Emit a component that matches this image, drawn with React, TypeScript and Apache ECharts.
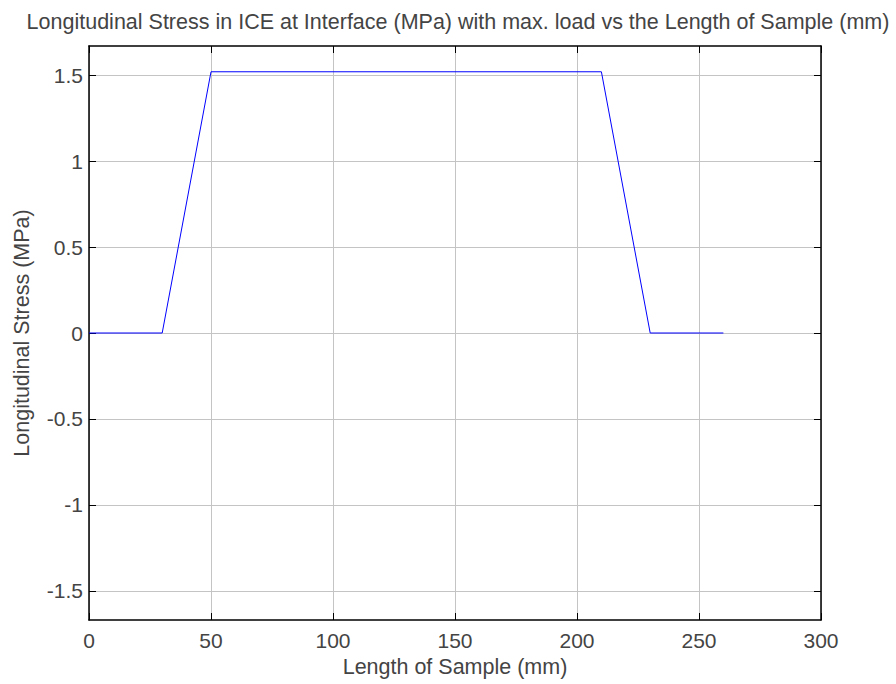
import React, { useEffect, useRef } from "react";
import * as echarts from "echarts";

const xValues = [0, 30, 50, 210, 230, 260];
const stressValues = [0, 0, 1.52, 1.52, 0, 0];
const yTicks = [-1.5, -1, -0.5, 0, 0.5, 1, 1.5];
const xTicks = [0, 50, 100, 150, 200, 250, 300];

const FONT = "Liberation Sans";
const TEXT = "#444444";

export default function App() {
  const ref = useRef<HTMLDivElement>(null);
  useEffect(() => {
    if (!ref.current) return;
    const chart = echarts.init(ref.current, undefined, { renderer: "svg" });
    const tick = { show: true, inside: true, length: 7, lineStyle: { color: "#000", width: 1 } };
    chart.setOption({
      animation: false,
      backgroundColor: "#fff",
      title: {
        text: "Longitudinal Stress in ICE at Interface (MPa) with max. load vs the Length of Sample (mm)",
        left: 453,
        textAlign: "center",
        top: 6,
        textStyle: { fontFamily: FONT, fontWeight: "normal", fontSize: 21.5, color: TEXT },
      },
      grid: [{ left: 89, right: 75, top: 46, bottom: 64, show: false, outerBoundsMode: "none", containLabel: false }],
      xAxis: [
        {
          type: "value",
          min: 0,
          max: 300,
          interval: 50,
          name: "Length of Sample (mm)",
          nameLocation: "middle",
          nameGap: 32,
          nameTextStyle: { fontFamily: FONT, fontSize: 21.5, color: TEXT },
          axisLine: { show: true, onZero: false, lineStyle: { color: "#000", width: 1.5 } },
          axisTick: tick,
          axisLabel: { fontFamily: FONT, fontSize: 21, color: TEXT, margin: 10, customValues: xTicks },
          splitLine: { show: true, lineStyle: { color: "#c4c4c4", width: 1 } },
        },
        {
          type: "value",
          position: "top",
          min: 0,
          max: 300,
          interval: 50,
          axisLine: { show: true, onZero: false, lineStyle: { color: "#000", width: 1.5 } },
          axisTick: tick,
          axisLabel: { show: false },
          splitLine: { show: false },
        },
      ],
      yAxis: [
        {
          type: "value",
          min: -1.67,
          max: 1.67,
          name: "Longitudinal Stress (MPa)",
          nameLocation: "middle",
          nameGap: 56,
          nameTextStyle: { fontFamily: FONT, fontSize: 21.5, color: TEXT },
          axisLine: { show: true, onZero: false, lineStyle: { color: "#000", width: 1.5 } },
          axisTick: { ...tick, customValues: yTicks },
          axisLabel: {
            fontFamily: FONT,
            fontSize: 21,
            color: TEXT,
            margin: 6,
            customValues: yTicks,
            formatter: (v: number) => String(v),
          },
          splitLine: { show: true, lineStyle: { color: "#c4c4c4", width: 1 } },
        },
        {
          type: "value",
          position: "right",
          min: -1.67,
          max: 1.67,
          axisLine: { show: true, onZero: false, lineStyle: { color: "#000", width: 1.5 } },
          axisTick: { ...tick, customValues: yTicks },
          axisLabel: { show: false },
          splitLine: { show: false },
        },
      ],
      series: [
        {
          type: "line",
          data: xValues.map((x, i) => [x, stressValues[i]]),
          showSymbol: false,
          lineStyle: { color: "#0000ff", width: 1 },
          itemStyle: { color: "#0000ff" },
          z: 5,
        },
      ],
    });
    return () => chart.dispose();
  }, []);
  return <div ref={ref} style={{ width: 896, height: 684, position: "absolute", left: 0, top: 0 }} />;
}
